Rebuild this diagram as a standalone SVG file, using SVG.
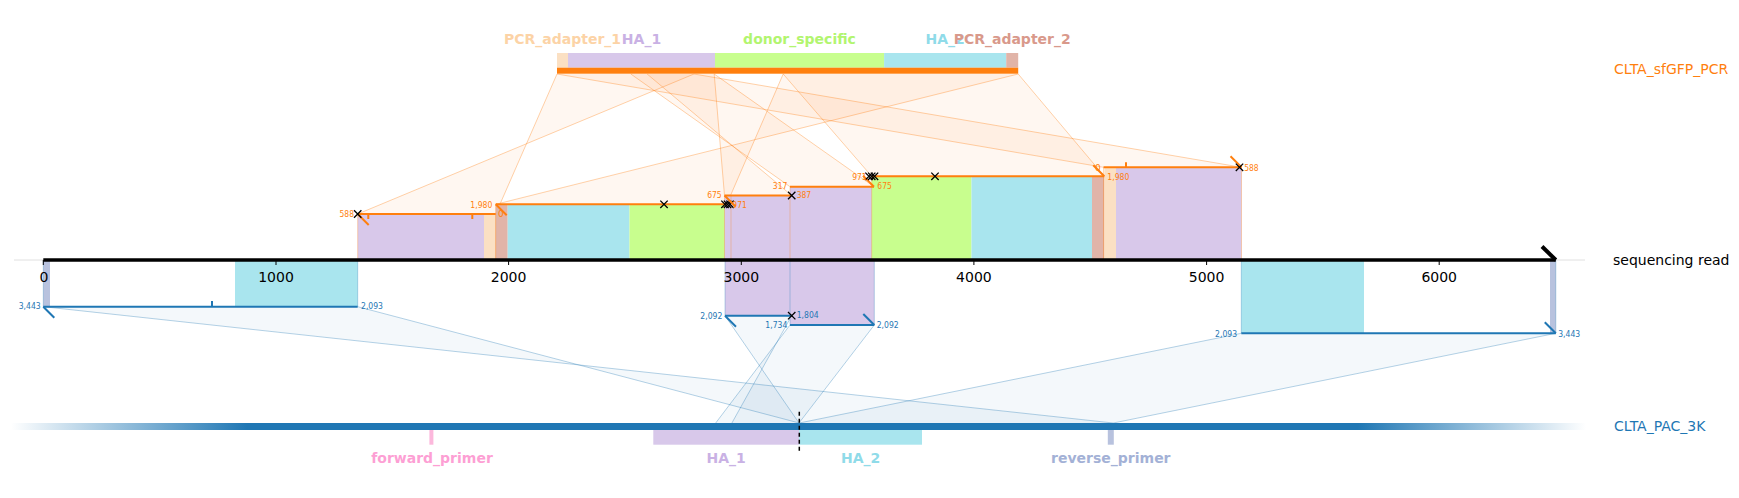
<svg xmlns="http://www.w3.org/2000/svg" width="1739" height="498" viewBox="0 0 1739 498">
<style>
text{font-family:"DejaVu Sans","Liberation Sans",sans-serif}
.feat{font-size:14px;font-weight:bold;text-anchor:middle}
.tick{font-size:14px;text-anchor:middle;fill:#000}
.ttl{font-size:14px}
.ol{font-size:9px;fill:#ff7f0e}
.bl{font-size:9px;fill:#1f77b4}
.e{text-anchor:end}
.oc{fill:#ff7f0e;fill-opacity:.06;stroke:none}
.oe{fill:none;stroke:#ff7f0e;stroke-opacity:.35;stroke-width:1}
.bc{fill:#1f77b4;fill-opacity:.05;stroke:none}
.be{fill:none;stroke:#1f77b4;stroke-opacity:.33;stroke-width:1}
.os{stroke:#ff7f0e;stroke-width:2;fill:none}
.bs{stroke:#1f77b4;stroke-width:2;fill:none}
.oed{stroke:#ff7f0e;stroke-opacity:.3;stroke-width:1;fill:none}
.bed{stroke:#1f77b4;stroke-opacity:.3;stroke-width:1;fill:none}
.x{stroke:#000;stroke-width:1.3;fill:none}
.pu{fill:#d8c8ea}.cy{fill:#a9e5ee}.gr{fill:#c8fe8e}.lo{fill:#fbe0c3}.sa{fill:#e1b4a8}.rp{fill:#b8c2de}.fp{fill:#fcb8dc}
</style>
<defs>
<path id="xm" d="M-3.7,-3.7L3.7,3.7M-3.7,3.7L3.7,-3.7" class="x"/>
<linearGradient id="pacg" gradientUnits="userSpaceOnUse" x1="11" y1="0" x2="1586" y2="0">
<stop offset="0" stop-color="#1f77b4" stop-opacity="0"/>
<stop offset="0.15" stop-color="#1f77b4" stop-opacity="1"/>
<stop offset="0.855" stop-color="#1f77b4" stop-opacity="1"/>
<stop offset="1" stop-color="#1f77b4" stop-opacity="0"/>
</linearGradient>
</defs>
<rect width="1739" height="498" fill="#fff"/>

<g id="connectors">
<polygon class="oc" points="357.7,214 495.7,214 557,74 694,74"/>
<path class="oe" d="M357.7,214L694,74M495.7,214L557,74"/>
<polygon class="oc" points="495.7,204.3 726.7,204.3 783.2,74 1018.2,74"/>
<path class="oe" d="M495.7,204.3L1018.2,74M726.7,204.3L783.2,74"/>
<polygon class="oc" points="724.5,195.5 791.7,195.5 647.1,74 714.2,74"/>
<path class="oe" d="M724.5,195.5L714.2,74M791.7,195.5L647.1,74"/>
<polygon class="oc" points="790,186.7 874,186.7 714.2,74 630.8,74"/>
<path class="oe" d="M790,186.7L630.8,74M874,186.7L714.2,74"/>
<polygon class="oc" points="871.7,176.3 1104.3,176.3 1018.2,74 783.2,74"/>
<path class="oe" d="M871.7,176.3L783.2,74M1104.3,176.3L1018.2,74"/>
<polygon class="oc" points="1103.5,167.3 1241.5,167.3 694,74 557,74"/>
<path class="oe" d="M1103.5,167.3L557,74M1241.5,167.3L694,74"/>
<polygon class="bc" points="43.3,306.7 357.7,306.7 799.2,423 1113.3,423"/>
<path class="be" d="M43.3,306.7L1113.3,423M357.7,306.7L799.2,423"/>
<polygon class="bc" points="725,315.7 791.7,315.7 731.9,423 799,423"/>
<path class="be" d="M725,315.7L799,423M791.7,315.7L731.9,423"/>
<polygon class="bc" points="790,325 874.3,325 799,423 715.7,423"/>
<path class="be" d="M790,325L715.7,423M874.3,325L799,423"/>
<polygon class="bc" points="1241.3,333.3 1555.8,333.3 1113.3,423 799.2,423"/>
<path class="be" d="M1241.3,333.3L799.2,423M1555.8,333.3L1113.3,423"/>
</g>

<g id="pcr-reference">
<rect class="lo" x="557" y="53" width="11" height="14.7"/>
<rect class="pu" x="568" y="53" width="147" height="14.7"/>
<rect class="gr" x="715" y="53" width="169.1" height="14.7"/>
<rect class="cy" x="884.1" y="53" width="122.1" height="14.7"/>
<rect class="sa" x="1006.2" y="53" width="12" height="14.7"/>
<rect x="557" y="67.7" width="461.2" height="6" fill="#ff7f0e"/>
<text class="feat" x="562.5" y="44" fill="#fcd3a6">PCR_adapter_1</text>
<text class="feat" x="641.5" y="44" fill="#c9b1e4">HA_1</text>
<text class="feat" x="799.5" y="44" fill="#b2f56f">donor_specific</text>
<text class="feat" x="945.2" y="44" fill="#8fdbe9">HA_2</text>
<text class="feat" x="1012.2" y="44" fill="#d9998b">PCR_adapter_2</text>
<text class="ttl" x="1614" y="73.5" fill="#ff7f0e">CLTA_sfGFP_PCR</text>
</g>

<g id="read-feature-blocks">
<rect class="pu" x="357.7" y="214" width="126.3" height="46"/>
<rect class="lo" x="484" y="214" width="11.7" height="46"/>
<path class="oed" d="M357.7,214V260M495.7,214V260"/>
<rect class="sa" x="495.7" y="204.3" width="12" height="55.7"/>
<rect class="cy" x="507.7" y="204.3" width="121.8" height="55.7"/>
<rect class="gr" x="629.5" y="204.3" width="97.2" height="55.7"/>
<path class="oed" d="M495.7,204.3V260M726.7,204.3V260"/>
<rect class="pu" x="724.5" y="195.5" width="67.2" height="64.5"/>
<path class="oed" d="M724.5,195.5V260M731,195.5V260M791.7,195.5V260"/>
<rect class="pu" x="790" y="186.7" width="84" height="73.3"/>
<path class="oed" d="M790,186.7V260M874,186.7V260"/>
<rect class="gr" x="871.7" y="176.3" width="99.8" height="83.7"/>
<rect class="cy" x="971.5" y="176.3" width="120.5" height="83.7"/>
<rect class="sa" x="1092" y="176.3" width="12.3" height="83.7"/>
<path class="oed" d="M871.7,176.3V260M1104.3,176.3V260"/>
<rect class="lo" x="1104.3" y="167.3" width="11.7" height="92.7"/>
<rect class="pu" x="1116" y="167.3" width="125.5" height="92.7"/>
<path class="oed" d="M1103.5,167.3V260M1241.5,167.3V260"/>
<rect class="rp" x="43.3" y="260" width="6.7" height="46.7"/>
<rect class="cy" x="235" y="260" width="122.7" height="46.7"/>
<path class="bed" d="M43.3,260V306.7M357.7,260V306.7"/>
<rect class="pu" x="725" y="260" width="66.7" height="55.7"/>
<path class="bed" d="M725,260V315.7M791.7,260V315.7"/>
<rect class="pu" x="790" y="260" width="84.3" height="65"/>
<path class="bed" d="M790,260V325M874.3,260V325"/>
<rect class="cy" x="1241.3" y="260" width="122.7" height="73.3"/>
<rect class="rp" x="1550" y="260" width="5.8" height="73.3"/>
<path class="bed" d="M1241.3,260V333.3M1555.8,260V333.3"/>
</g>

<g id="aln-pcr-a">
<line class="os" x1="357.7" y1="214" x2="495.7" y2="214"/>
<line class="os" x1="357.7" y1="214" x2="368.7" y2="225"/>
<path class="os" d="M368.3,214V219M472.3,214V219"/>
<use href="#xm" x="357.7" y="214"/>
<text class="ol e" x="354" y="217.3" textLength="14.5" lengthAdjust="spacingAndGlyphs">588</text>
<text class="ol" x="498" y="217">0</text>
</g>

<g id="aln-pcr-b">
<line class="os" x1="495.7" y1="204.3" x2="726.7" y2="204.3"/>
<line class="os" x1="495.7" y1="204.3" x2="506.7" y2="215.3"/>
<use href="#xm" x="664" y="204.3"/>
<use href="#xm" x="725" y="204.3"/>
<use href="#xm" x="727.5" y="204.3"/>
<use href="#xm" x="730" y="204.3"/>
<text class="ol e" x="492.3" y="207.8" textLength="22" lengthAdjust="spacingAndGlyphs">1,980</text>
<text class="ol" x="732.3" y="207.6" textLength="14.5" lengthAdjust="spacingAndGlyphs">971</text>
</g>

<g id="aln-pcr-c">
<line class="os" x1="724.5" y1="195.5" x2="791.7" y2="195.5"/>
<line class="os" x1="724.5" y1="195.5" x2="735.5" y2="206.5"/>
<use href="#xm" x="791.7" y="195.5"/>
<text class="ol e" x="721.7" y="197.8" textLength="14.5" lengthAdjust="spacingAndGlyphs">675</text>
<text class="ol" x="796.7" y="198" textLength="14.5" lengthAdjust="spacingAndGlyphs">387</text>
</g>

<g id="aln-pcr-d">
<line class="os" x1="790" y1="186.7" x2="874" y2="186.7"/>
<line class="os" x1="874" y1="186.7" x2="863" y2="175.7"/>
<text class="ol e" x="787.3" y="188.6" textLength="14.5" lengthAdjust="spacingAndGlyphs">317</text>
<text class="ol" x="877.3" y="189" textLength="14.5" lengthAdjust="spacingAndGlyphs">675</text>
</g>

<g id="aln-pcr-e">
<line class="os" x1="871.7" y1="176.3" x2="1104.3" y2="176.3"/>
<line class="os" x1="1104.3" y1="176.3" x2="1093.3" y2="165.3"/>
<use href="#xm" x="869" y="176.3"/>
<use href="#xm" x="871.7" y="176.3"/>
<use href="#xm" x="874.5" y="176.3"/>
<use href="#xm" x="935" y="176.3"/>
<text class="ol e" x="866.7" y="180" textLength="14.5" lengthAdjust="spacingAndGlyphs">971</text>
<text class="ol" x="1107.3" y="180" textLength="22" lengthAdjust="spacingAndGlyphs">1,980</text>
</g>

<g id="aln-pcr-f">
<line class="os" x1="1103.5" y1="167.3" x2="1241.5" y2="167.3"/>
<line class="os" x1="1241.5" y1="167.3" x2="1230.5" y2="156.3"/>
<path class="os" d="M1126,167.3V162.3"/>
<use href="#xm" x="1239.5" y="167.3"/>
<text class="ol e" x="1100.7" y="170.6">0</text>
<text class="ol" x="1244.2" y="170.6" textLength="14.5" lengthAdjust="spacingAndGlyphs">588</text>
</g>

<g id="sequencing-read">
<line x1="14" y1="260" x2="1585" y2="260" stroke="#e0e0e0" stroke-width="1"/>
<line x1="43.3" y1="260" x2="1555.8" y2="260" stroke="#000" stroke-width="3.5"/>
<line x1="1555.8" y1="260" x2="1542" y2="246.5" stroke="#000" stroke-width="4"/>
<path d="M43.3,260V265M276,260V265M508.6,260V265M741.3,260V265M973.9,260V265M1206.6,260V265M1439.2,260V265" stroke="#000" stroke-width="1"/>
<text class="tick" x="44" y="281.5">0</text>
<text class="tick" x="276" y="281.5">1000</text>
<text class="tick" x="508.6" y="281.5">2000</text>
<text class="tick" x="741.3" y="281.5">3000</text>
<text class="tick" x="973.9" y="281.5">4000</text>
<text class="tick" x="1206.6" y="281.5">5000</text>
<text class="tick" x="1439.2" y="281.5">6000</text>
<text class="ttl" x="1613" y="264.5" fill="#000">sequencing read</text>
</g>

<g id="aln-pac-left">
<line class="bs" x1="43.3" y1="306.7" x2="357.7" y2="306.7"/>
<line class="bs" x1="43.3" y1="306.7" x2="54.3" y2="317.7"/>
<path class="bs" d="M212,306.7V301"/>
<text class="bl e" x="40.7" y="308.8" textLength="22" lengthAdjust="spacingAndGlyphs">3,443</text>
<text class="bl" x="361" y="308.8" textLength="22" lengthAdjust="spacingAndGlyphs">2,093</text>
</g>

<g id="aln-pac-mid1">
<line class="bs" x1="725" y1="315.7" x2="791.7" y2="315.7"/>
<line class="bs" x1="725" y1="315.7" x2="736" y2="326.7"/>
<use href="#xm" x="791.7" y="315.7"/>
<text class="bl e" x="722.3" y="318.8" textLength="22" lengthAdjust="spacingAndGlyphs">2,092</text>
<text class="bl" x="796.7" y="318.3" textLength="22" lengthAdjust="spacingAndGlyphs">1,804</text>
</g>

<g id="aln-pac-mid2">
<line class="bs" x1="790" y1="325" x2="874.3" y2="325"/>
<line class="bs" x1="874.3" y1="325" x2="863.3" y2="314"/>
<text class="bl e" x="787.3" y="327.8" textLength="22" lengthAdjust="spacingAndGlyphs">1,734</text>
<text class="bl" x="876.7" y="327.8" textLength="22" lengthAdjust="spacingAndGlyphs">2,092</text>
</g>

<g id="aln-pac-right">
<line class="bs" x1="1241.3" y1="333.3" x2="1555.8" y2="333.3"/>
<line class="bs" x1="1555.8" y1="333.3" x2="1544.8" y2="322.3"/>
<text class="bl e" x="1237.1" y="336.6" textLength="22" lengthAdjust="spacingAndGlyphs">2,093</text>
<text class="bl" x="1558.2" y="336.6" textLength="22" lengthAdjust="spacingAndGlyphs">3,443</text>
</g>

<g id="pac-reference">
<rect x="11" y="423" width="1575" height="7" fill="url(#pacg)"/>
<rect class="fp" x="429.4" y="430" width="4" height="14.7"/>
<rect class="pu" x="653.3" y="430" width="145.8" height="14.7"/>
<rect class="cy" x="799.1" y="430" width="122.9" height="14.7"/>
<rect class="rp" x="1107.8" y="430" width="6" height="14.7"/>
<line x1="799.3" y1="411.7" x2="799.3" y2="450.7" stroke="#000" stroke-width="1.5" stroke-dasharray="4,3"/>
<text class="feat" x="432" y="463" fill="#fd9fd4">forward_primer</text>
<text class="feat" x="726.2" y="463" fill="#c9b1e4">HA_1</text>
<text class="feat" x="860.6" y="463" fill="#8fdbe9">HA_2</text>
<text class="feat" x="1110.8" y="463" fill="#a3b1d6">reverse_primer</text>
<text class="ttl" x="1614" y="431" fill="#1f77b4">CLTA_PAC_3K</text>
</g>
</svg>
